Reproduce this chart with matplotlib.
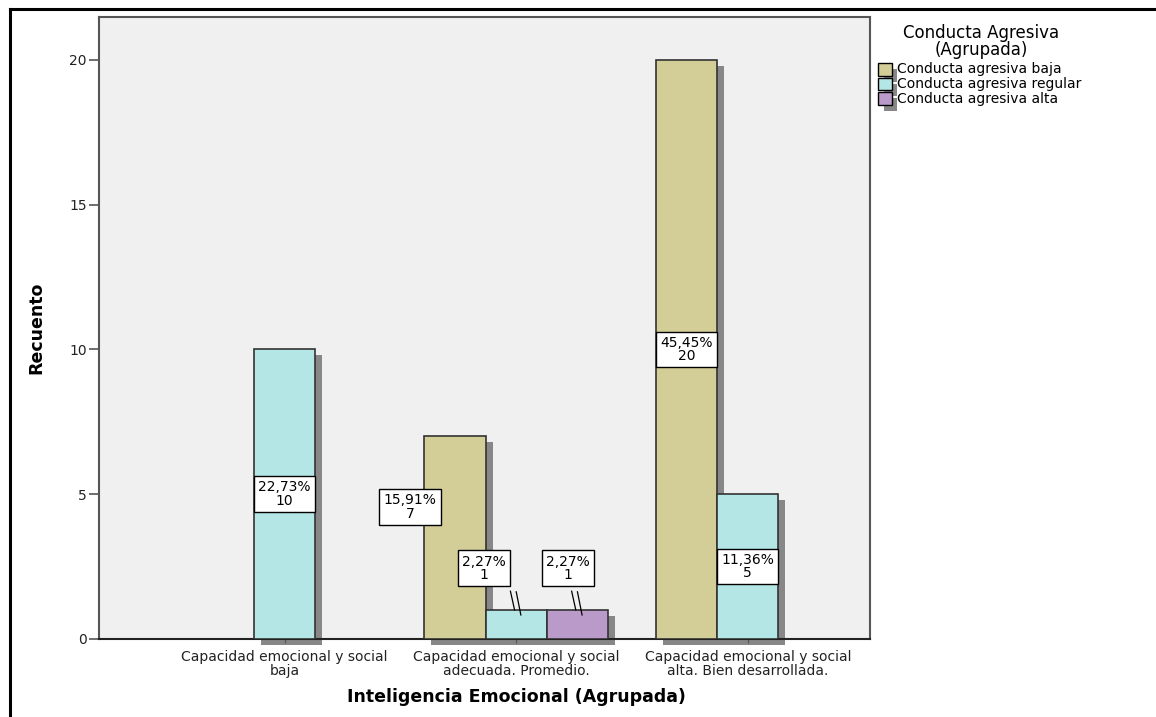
import matplotlib.pyplot as plt
import matplotlib.transforms as mtransforms
from matplotlib.patches import Rectangle
from matplotlib.lines import Line2D
import numpy as np

# datos del gráfico
categorias = ["Capacidad emocional y social\nbaja",
              "Capacidad emocional y social\nadecuada. Promedio.",
              "Capacidad emocional y social\nalta. Bien desarrollada."]
series = ["Conducta agresiva baja", "Conducta agresiva regular", "Conducta agresiva alta"]
baja = [0, 7, 20]
regular = [10, 1, 5]
alta = [0, 1, 0]
y_ticks = [0, 5, 10, 15, 20]

colores = ["#d3ce97", "#b5e6e6", "#b99ac8"]
sombra = "#878787"

W, H = 1156, 717
fig = plt.figure(figsize=(W / 100, H / 100), dpi=100)
ax = fig.add_axes([99 / W, 1 - 639 / H, (870 - 99) / W, (639 - 17) / H])
ax.set_facecolor("#f0f0f0")

conteos = [baja, regular, alta]
total = sum(sum(c) for c in conteos)
ancho = 0.2644
x = np.arange(len(categorias))
desplaz = mtransforms.ScaledTranslation(7 / 100, -6 / 100, fig.dpi_scale_trans)

# etiquetas movidas a mano (serie, categoria) -> (x, y); el resto va al centro de la barra
etiqueta_pos = {(0, 1): (0.541, 4.56), (1, 1): (0.859, 2.44), (2, 1): (1.224, 2.44)}
con_lineas = [(1, 1), (2, 1)]

for s, (vals, col) in enumerate(zip(conteos, colores)):
    idx = [c for c, v in enumerate(vals) if v > 0]
    xs = [x[c] + (s - 1) * ancho for c in idx]
    vs = [vals[c] for c in idx]
    barras = ax.bar(xs, vs, width=ancho, color=col, edgecolor="#333333",
                    linewidth=1.2, zorder=3)
    for p in barras:
        ax.add_patch(Rectangle((p.get_x(), 0), p.get_width(), p.get_height(),
                               transform=ax.transData + desplaz, fc=sombra,
                               ec="none", zorder=1, clip_on=False))
    for c, xb, v in zip(idx, xs, vs):
        pct = f"{v / total * 100:.2f}%".replace(".", ",")
        xt, yt = etiqueta_pos.get((s, c), (xb, v / 2))
        ax.text(xt, yt, f"{pct}\n{v}", ha="center", va="center", fontsize=10,
                linespacing=0.95, zorder=6,
                bbox=dict(boxstyle="square,pad=0.3", fc="white", ec="black", lw=1.0))
        if (s, c) in con_lineas:
            ax.plot([xb - 0.025, xb - 0.007], [1.65, v], color="black", lw=0.9, zorder=5)
            ax.plot([xb + 0.0, xb + 0.02], [1.63, v - 0.17], color="black", lw=0.9, zorder=5)

ax.set_xlim(-0.802, 2.528)
ax.set_ylim(0, 21.48)
ax.set_xticks(x, categorias, fontsize=10, linespacing=0.95)
ax.set_yticks(y_ticks)
ax.tick_params(axis="x", length=3, color="#555555", pad=5, labelcolor="#222222")
ax.tick_params(axis="y", length=7.2, width=1.2, color="#555555", pad=1.5,
               labelsize=10, labelcolor="#222222")
for sp in ax.spines.values():
    sp.set_color("#555555")
    sp.set_linewidth(1.5)
ax.spines["bottom"].set_color("#222222")

ax.set_ylabel("Recuento", fontsize=12.5, fontweight="bold")
ax.yaxis.set_label_coords(-0.07, 0.5)
ax.set_xlabel("Inteligencia Emocional (Agrupada)", fontsize=12.5, fontweight="bold")
ax.xaxis.set_label_coords((516 - 99) / 771, -0.079)

# marco exterior
fig.add_artist(Line2D([10 / W, 1], [1 - 8.5 / H, 1 - 8.5 / H], color="black",
                      lw=2.2, transform=fig.transFigure))
fig.add_artist(Line2D([10 / W, 10 / W], [0, 1 - 8.5 / H], color="black",
                      lw=2.2, transform=fig.transFigure))

# leyenda
fig.text(981 / W, 1 - 24 / H, "Conducta Agresiva\n(Agrupada)", ha="center",
         va="top", fontsize=12, linespacing=0.9)
for i, (nombre, col) in enumerate(zip(series, colores)):
    yc = 69.5 + i * 14.5
    fig.add_artist(Rectangle(((878 + 6) / W, 1 - (yc + 12) / H), 13 / W, 12 / H,
                             transform=fig.transFigure, fc=sombra, ec="none"))
    fig.add_artist(Rectangle((878 / W, 1 - (yc + 6) / H), 14 / W, 12 / H,
                             transform=fig.transFigure, fc=col, ec="black", lw=1))
    fig.text(897 / W, 1 - yc / H, nombre, va="center", fontsize=10)

fig.savefig("out.png", dpi=100)
